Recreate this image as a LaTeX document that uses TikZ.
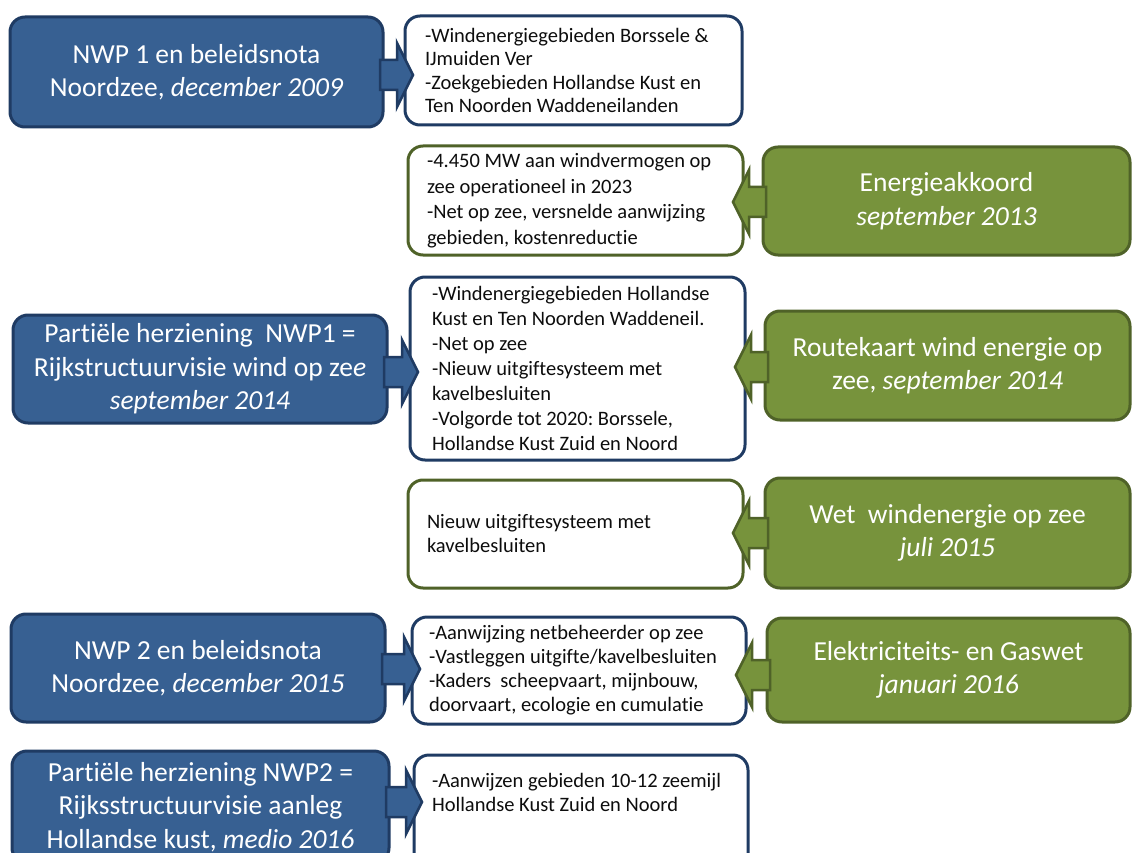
\documentclass[tikz,border=0pt]{standalone}
\usepackage{fontspec}
\setmainfont{Carlito}[Ligatures=NoCommon]
\frenchspacing
\usetikzlibrary{calc}
\definecolor{bfill}{HTML}{376092}
\definecolor{bline}{HTML}{1F3B63}
\definecolor{gfill}{HTML}{77933C}
\definecolor{gline}{HTML}{4F6228}
\definecolor{txt}{HTML}{0D0D0D}
\tikzset{
  box/.style={rounded corners=15pt, line width=3pt, inner ysep=0pt, outer sep=0pt},
  bigtext/.style={text=white, align=center, font=\fontsize{27.5}{33.5}\selectfont},
  bluebox/.style={box, draw=bline, fill=bfill, bigtext},
  greenbox/.style={box, draw=gline, fill=gfill, bigtext},
  wbox/.style={box, fill=white, text=txt, align=flush left, font=\fontsize{20.5}{24}\selectfont},
  wblue/.style={wbox, draw=bline},
  wgreen/.style={wbox, draw=gline},
  barrow/.style={draw=bline, fill=bfill, line width=2.5pt, line join=miter},
  garrow/.style={draw=gline, fill=gfill, line width=2.5pt, line join=miter},
}
\newcommand\bluearrow[3]{%
  \path[barrow] let \p1=([yshift=#3]#1.east), \p2=(#2.west) in
   (\x1-3pt,\y1+15pt) -- (\x2-8pt,\y1+15pt) -- (\x2-8pt,\y1+32pt) -- (\x2+8pt,\y1)
   -- (\x2-8pt,\y1-32pt) -- (\x2-8pt,\y1-15pt) -- (\x1-3pt,\y1-15pt) -- cycle;}
\newcommand\greenarrow[3]{%
  \path[garrow] let \p1=([yshift=#3]#1.west), \p2=(#2.east) in
   (\x1+3pt,\y1+15pt) -- (\x2+6pt,\y1+15pt) -- (\x2+6pt,\y1+32pt) -- (\x2-10pt,\y1)
   -- (\x2+6pt,\y1-32pt) -- (\x2+6pt,\y1-15pt) -- (\x1+3pt,\y1-15pt) -- cycle;}
\begin{document}
\begin{tikzpicture}[x=1pt,y=-1pt]
\useasboundingbox (0,0) rectangle (1132,853);
\begin{scope}
\clip (0,0) rectangle (1132,853);
% white boxes
\node[wblue, minimum height=109pt, text width=297pt, inner xsep=20pt,
      font=\fontsize{20.5}{23.5}\selectfont] (w1) at (573.5,70.5)
  {-Windenergiegebieden Borssele \&\\IJmuiden Ver\\-Zoekgebieden Hollandse Kust en\\Ten Noorden Waddeneilanden};
\node[wgreen, minimum height=109pt, text width=297pt, inner xsep=19pt,
      font=\fontsize{20.5}{25.5}\selectfont] (w2) at (575.5,200.5)
  {-4.450 MW aan windvermogen op\\zee operationeel in 2023\\-Net op zee, versnelde aanwijzing\\gebieden, kostenreductie};
\node[wblue, minimum height=183pt, text width=291pt, inner xsep=22pt,
      font=\fontsize{20.5}{25}\selectfont] (w3) at (577.5,368.5)
  {-Windenergiegebieden Hollandse\\Kust en Ten Noorden Waddeneil.\\-Net op zee\\-Nieuw uitgiftesysteem met\\kavelbesluiten\\-Volgorde tot 2020: Borssele,\\Hollandse Kust Zuid en Noord};
\node[wgreen, minimum height=108pt, text width=297pt, inner xsep=19pt] (w4) at (575.5,534)
  {Nieuw uitgiftesysteem met\\kavelbesluiten};
\node[wblue, minimum height=107pt, text width=300pt, inner xsep=17pt] (w5) at (579,670.5)
  {-Aanwijzing netbeheerder op zee\\-Vastleggen uitgifte/kavelbesluiten\\-Kaders\ \ scheepvaart, mijnbouw,\\doorvaart, ecologie en cumulatie};
\node[wblue, minimum width=334pt, minimum height=113pt] (w6) at (581,811.5) {};
\node[wbox, fill=none, draw=none, anchor=north west, inner sep=0pt]
  (w6t) at ([xshift=18pt,yshift=-18pt]w6.north west)
  {-Aanwijzen gebieden 10-12 zeemijl\\Hollandse Kust Zuid en Noord};
% blue boxes
\node[bluebox, minimum width=373pt, minimum height=110pt] (b1) at (196.5,72)
  {NWP 1 en beleidsnota\\Noordzee, \textit{december 2009}};
\node[bluebox, minimum width=374pt, minimum height=108pt] (b3) at (200,369)
  {Partiële herziening\ \ NWP1 =\\Rijkstructuurvisie wind op ze\textit{e}\\\textit{september 2014}};
\node[bluebox, minimum width=374pt, minimum height=108pt] (b5) at (198,668)
  {NWP 2 en beleidsnota\\Noordzee, \textit{december 2015}};
\node[bluebox, minimum width=377pt, minimum height=112pt] (b6) at (200.5,807)
  {Partiële herziening NWP2 =\\Rijksstructuurvisie aanleg\\Hollandse kust, \textit{medio 2016}};
% green boxes
\node[greenbox, minimum width=367pt, minimum height=108pt] (g2) at (946.5,201)
  {Energieakkoord\\\textit{september 2013}};
\node[greenbox, minimum width=365pt, minimum height=109pt] (g3) at (947.5,365.5)
  {Routekaart wind energie op\\zee, \textit{september 2014}};
\node[greenbox, minimum width=365pt, minimum height=110pt] (g4) at (947.5,533)
  {Wet\ \ windenergie op zee\\\textit{juli 2015}};
\node[greenbox, minimum width=363pt, minimum height=104pt] (g5) at (948.5,670)
  {Elektriciteits- en Gaswet\\\textit{januari 2016}};
% arrows
\bluearrow{b1}{w1}{-3pt}
\bluearrow{b3}{w3}{-3pt}
\bluearrow{b5}{w5}{-1pt}
\bluearrow{b6}{w6}{5pt}
\greenarrow{g2}{w2}{-1pt}
\greenarrow{g3}{w3}{-1.5pt}
\greenarrow{g4}{w4}{0pt}
\greenarrow{g5}{w5}{-5pt}
\end{scope}
\end{tikzpicture}
\end{document}
